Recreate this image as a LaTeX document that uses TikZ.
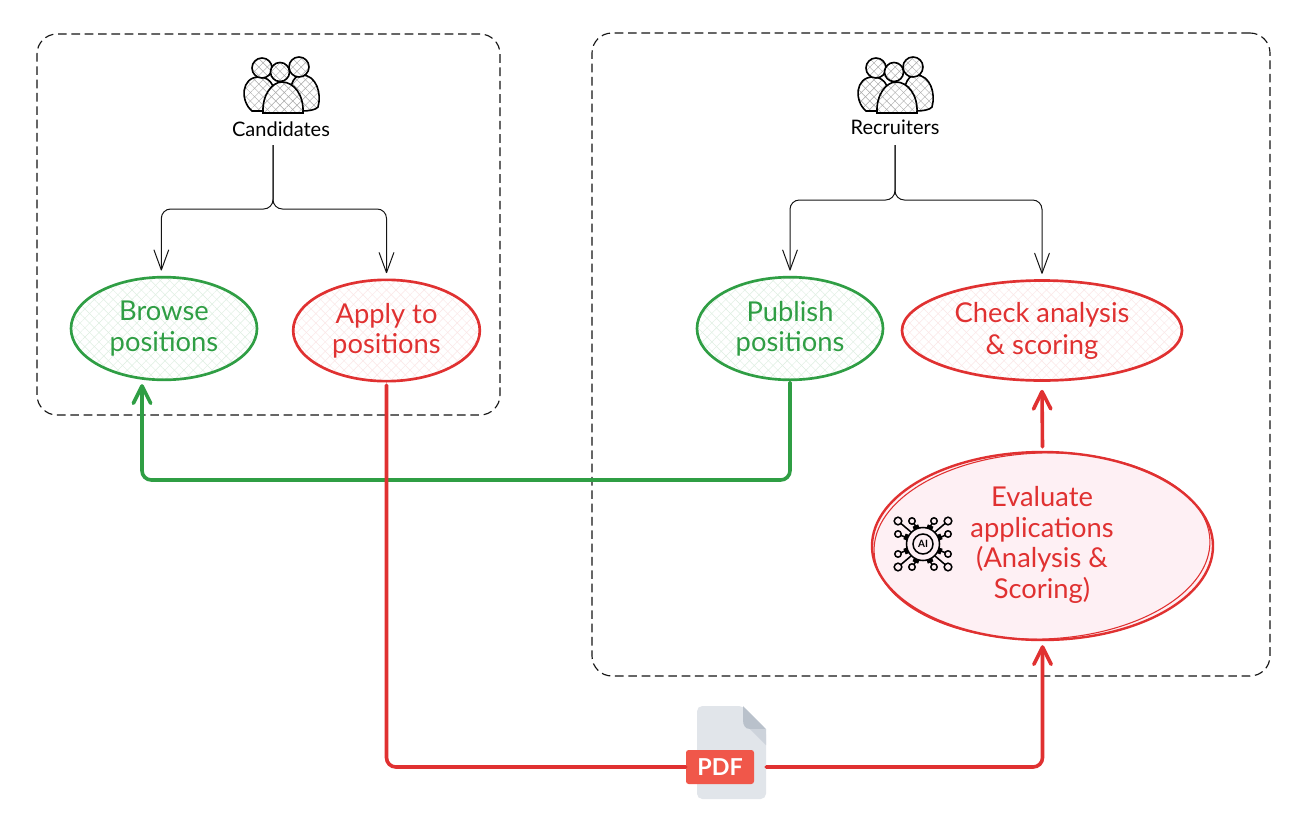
\documentclass[tikz,border=0pt]{standalone}
\usepackage{fontspec}
\setmainfont{Lato}
\usetikzlibrary{shapes.geometric,arrows.meta,patterns.meta,calc}
\definecolor{exgreen}{HTML}{2F9E44}
\definecolor{exred}{HTML}{E03131}
\definecolor{inkblack}{HTML}{141414}
\definecolor{exblush}{HTML}{FEF0F4}
\tikzset{
  x=0.75pt,y=-0.75pt,
  zonebox/.style={draw=inkblack,line width=0.85pt,dash pattern=on 6.5pt off 3.5pt,rounded corners=15pt},
  blob/.style={ellipse,inner sep=0pt,align=center,font=\fontsize{20.5}{22.8}\selectfont},
  greenblob/.style={blob,draw=exgreen,text=exgreen,line width=2pt,
     preaction={pattern={Lines[angle=45,distance=5pt,line width=.35pt]},pattern color=exgreen!16},
     preaction={pattern={Lines[angle=-45,distance=5pt,line width=.35pt]},pattern color=exgreen!16}},
  redblob/.style={blob,draw=exred,text=exred,line width=2pt,
     preaction={pattern={Lines[angle=45,distance=5pt,line width=.35pt]},pattern color=exred!12},
     preaction={pattern={Lines[angle=-45,distance=5pt,line width=.35pt]},pattern color=exred!12}},
  thinarrow/.style={draw=inkblack,line width=0.75pt,rounded corners=7pt,-{Straight Barb[length=15pt,width=11pt,line width=.75pt,round]}},
  thickgreen/.style={draw=exgreen,line width=2.7pt,rounded corners=7pt,line cap=round,-{Straight Barb[length=13pt,width=13pt,round]}},
  thickred/.style={draw=exred,line width=2.7pt,rounded corners=7pt,line cap=round},
  thickredarrow/.style={thickred,-{Straight Barb[length=13pt,width=13pt,round]}},
  grouplabel/.style={font=\fontsize{15}{17}\selectfont,text=black,inner sep=0pt},
  personpart/.style={draw=black,line width=1.2pt,
     preaction={fill=white},
     preaction={pattern={Lines[angle=45,distance=4.5pt,line width=.3pt]},pattern color=black!35},
     preaction={pattern={Lines[angle=-45,distance=4.5pt,line width=.3pt]},pattern color=black!35}},
  people/.pic={
    \draw[personpart] (-30,-2) .. controls (-42,-12) and (-41,-36) .. (-23,-36) .. controls (-10,-36) and (-4,-24) .. (-8,-2) -- cycle;
    \draw[personpart] (8,-2) .. controls (6,-24) and (10,-38) .. (20,-38) .. controls (34,-38) and (40,-20) .. (36,-6) .. controls (34,-3) and (26,-2) .. (20,-2) -- cycle;
    \draw[personpart] (-20,-45) circle (10);
    \draw[personpart] (17,-46) circle (10);
    \draw[personpart] (-2,-41) circle (9.5);
    \draw[personpart] (-19,0) .. controls (-20,-18) and (-10,-31) .. (0,-31) .. controls (12,-31) and (22,-18) .. (21,0) -- cycle;
  },
  chipline/.style={draw=black,line width=1.15pt},
  chipend/.style={draw=black,line width=1.15pt}
}
\begin{document}
\begin{tikzpicture}
\useasboundingbox (0,0) rectangle (1311,818);
\fill[white] (0,0) rectangle (1311,818);

% zones
\node[zonebox,minimum width=347.25pt,minimum height=285.75pt,inner sep=0pt] (zoneleft) at (268.5,224.5) {};
\node[zonebox,minimum width=508.5pt,minimum height=482.25pt,inner sep=0pt] (zoneright) at (931,354.5) {};

% people
\pic at (282,113) {people};
\pic at (896,113) {people};
\node[grouplabel] (cand) at (281,129) {Candidates};
\node[grouplabel] (recr) at (895,127) {Recruiters};

% ellipses
\node[greenblob,minimum width=139.5pt,minimum height=77pt] (browse) at (164,328.5) {Browse\\positions};
\node[redblob,minimum width=140pt,minimum height=76pt] (apply) at (386.5,330.5) {Apply to\\positions};
\node[greenblob,minimum width=139.5pt,minimum height=77pt] (publish) at (790,328.5) {Publish\\positions};
\node[redblob,minimum width=210pt,minimum height=75pt,font=\fontsize{20.5}{24}\selectfont] (check) at (1042,330.5) {Check analysis\\\& scoring};
\node[blob,draw=exred,text=exred,line width=1.8pt,fill=exblush,minimum width=255.75pt,minimum height=141pt] (evaluate) at (1042.5,546) {};
\draw[exred,line width=.8pt,rotate around={2:(1042,546)}] (1042,546) ellipse (168 and 93);
\node[text=exred,align=center,inner sep=0pt,font=\fontsize{20.5}{22.8}\selectfont] (evaltext) at (1042,545) {Evaluate\\applications\\(Analysis \&\\Scoring)};

% AI icon
\begin{scope}[shift={(923,544)}]
  \foreach \ang in {0,45,...,315}{
    \fill[black,rotate=\ang+22.5] (-3,-20) rectangle (3,-15);
  }
  \draw[chipline,fill=exblush] (0,0) circle (16.5);
  \draw[chipline] (0,0) circle (10);
  \node[font=\bfseries\fontsize{7.5}{8}\selectfont,inner sep=0pt] (aitext) at (0,0) {AI};
  \foreach \sx in {-1,1}{\foreach \sy in {-1,1}{
    \draw[chipline] (\sx*12,\sy*12) -- (\sx*25,\sy*23);
    \draw[chipline] (\sx*6,\sy*16) -- (\sx*11,\sy*23);
    \draw[chipline] (\sx*16,\sy*6) -- (\sx*25,\sy*10);
    \draw[chipend,fill=exblush] (\sx*25,\sy*23) circle (3.8);
    \draw[chipend,fill=exblush] (\sx*11,\sy*23) circle (3.2);
    \draw[chipend,fill=exblush] (\sx*25,\sy*10) circle (3.2);
  }}
\end{scope}

% pdf
\fill[rounded corners=4pt,fill={rgb,255:red,225;green,229;blue,234}] (697,706) -- (743,706) -- (766,729) -- (766,799) -- (697,799) -- cycle;
\fill[fill={rgb,255:red,185;green,193;blue,203}] (743,706) -- (766,729) -- (750,729) .. controls (745,729) and (743,725) .. (743,720) -- cycle;
\fill[fill={rgb,255:red,205;green,211;blue,219}] (750,729) -- (766,729) -- (766,745) -- cycle;
\node[minimum width=51.75pt,minimum height=69.75pt,inner sep=0pt] (pdfpage) at (731.5,752.5) {};
\node[fill={rgb,255:red,240;green,87;blue,74},text=white,rounded corners=2pt,minimum width=51pt,minimum height=25.5pt,inner sep=0pt,font=\bfseries\fontsize{17.5}{19}\selectfont] (pdfbadge) at (720,767) {PDF};

% connectors
\coordinate (candtrunk) at (273,145);
\coordinate (recrtrunk) at (895,145);
\coordinate (browsein) at ($(browse.south)+(-22,3)$);
\draw[thinarrow] (candtrunk) -- (273,209) -| ([xshift=-2pt,yshift=4pt]browse.north);
\draw[thinarrow] (candtrunk) -- (273,209) -| ([yshift=4pt]apply.north);
\draw[thinarrow] (recrtrunk) -- (895,200) -| ([yshift=4pt]publish.north);
\draw[thinarrow] (recrtrunk) -- (895,200) -| ([yshift=4pt,xshift=-0pt]check.north);

\draw[thickgreen] ([yshift=-1pt]publish.south) |- (142,480) -- (browsein);
\draw[thickred] ([yshift=-2pt]apply.south) |- (pdfbadge.west);
\draw[thickredarrow] (pdfbadge.east -| pdfpage.east) -| ([yshift=-3pt]evaluate.south);
\draw[thickredarrow] ([yshift=3pt]evaluate.north) -- ([yshift=-6pt]check.south);
\end{tikzpicture}
\end{document}
